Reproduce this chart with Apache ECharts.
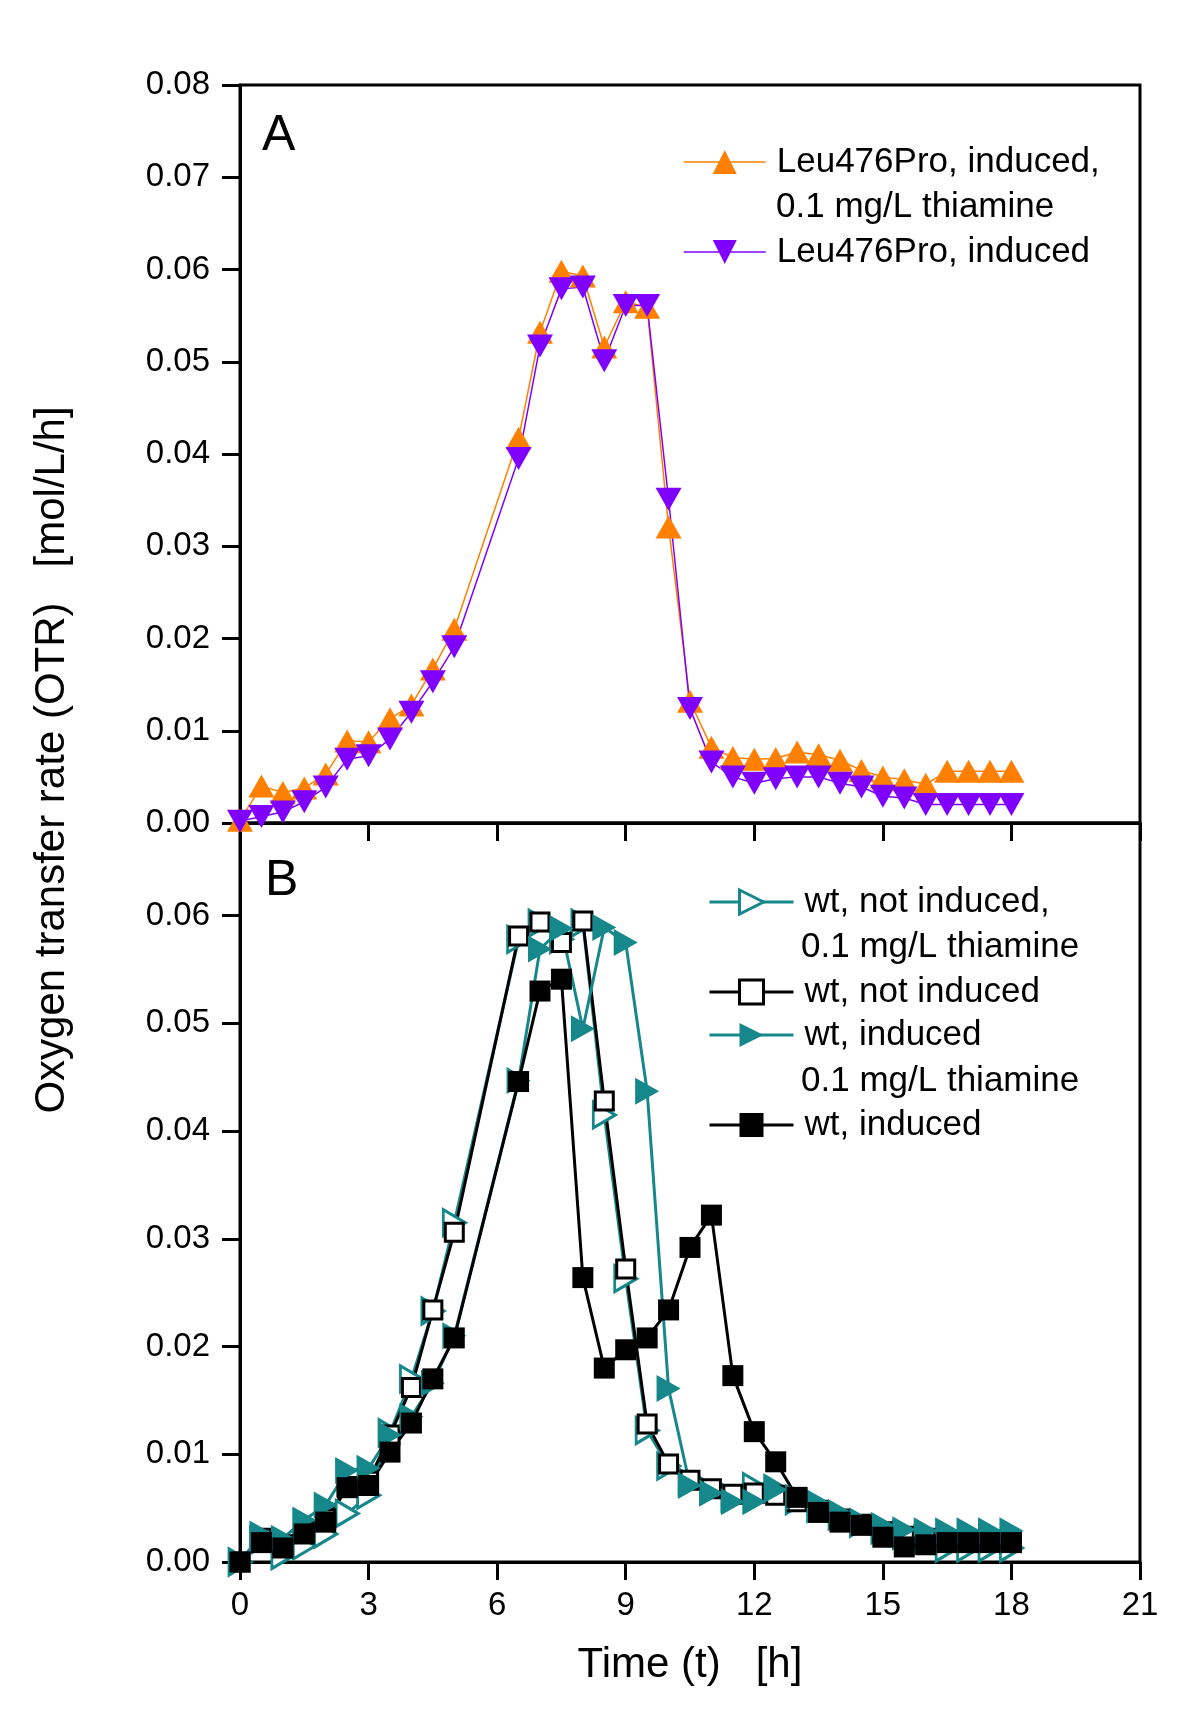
<!DOCTYPE html>
<html>
<head>
<meta charset="utf-8">
<title>OTR</title>
<script src="https://cdn.jsdelivr.net/npm/echarts@6/dist/echarts.min.js"></script>
<style>
  html, body { margin: 0; padding: 0; background: #fff; }
  #main { width: 1200px; height: 1717px; }
</style>
</head>
<body>
<div id="main"></div>
<script>
// sampling times [h]
const times = [0, 0.5, 1, 1.5, 2, 2.5, 3, 3.5, 4, 4.5, 5, 6.5, 7, 7.5, 8, 8.5, 9, 9.5, 10, 10.5,
  11, 11.5, 12, 12.5, 13, 13.5, 14, 14.5, 15, 15.5, 16, 16.5, 17, 17.5, 18];

// panel A
const leuThia = [0.0003, 0.0040, 0.0033, 0.0038, 0.0053, 0.0089, 0.0088, 0.0113, 0.0128, 0.0167, 0.0210,
  0.0417, 0.0532, 0.0598, 0.0593, 0.0516, 0.0565, 0.0559, 0.0321, 0.0132,
  0.0082, 0.0071, 0.0069, 0.0070, 0.0077, 0.0074, 0.0068, 0.0057, 0.0050, 0.0047, 0.0042, 0.0056, 0.0056, 0.0056, 0.0056];
const leuInd = [0.0002, 0.0007, 0.0012, 0.0023, 0.0039, 0.0069, 0.0073, 0.0091, 0.0120, 0.0153, 0.0191,
  0.0395, 0.0517, 0.0579, 0.0581, 0.0501, 0.0561, 0.0561, 0.0351, 0.0124,
  0.0066, 0.0050, 0.0043, 0.0048, 0.0050, 0.0050, 0.0043, 0.0039, 0.0029, 0.0027, 0.0020, 0.0020, 0.0020, 0.0020, 0.0020];

// panel B
const wtNotThia = [0.0000, 0.0020, 0.0006, 0.0015, 0.0026, 0.0045, 0.0062, 0.0120, 0.0170, 0.0233, 0.0315,
  0.0578, 0.0593, 0.0578, 0.0593, 0.0415, 0.0263, 0.0122, 0.0089, 0.0074,
  0.0066, 0.0060, 0.0070, 0.0068, 0.0057, 0.0050, 0.0043, 0.0036, 0.0030, 0.0025, 0.0021, 0.0013, 0.0013, 0.0013, 0.0013];
const wtNot = [0.0000, 0.0022, 0.0016, 0.0028, 0.0040, 0.0070, 0.0075, 0.0118, 0.0162, 0.0234, 0.0306,
  0.0581, 0.0594, 0.0575, 0.0595, 0.0428, 0.0272, 0.0128, 0.0091, 0.0076,
  0.0068, 0.0063, 0.0064, 0.0062, 0.0056, 0.0048, 0.0040, 0.0035, 0.0028, 0.0024, 0.0022, 0.0020, 0.0020, 0.0020, 0.0020];
const wtIndThia = [0.0000, 0.0026, 0.0022, 0.0039, 0.0053, 0.0085, 0.0087, 0.0118, 0.0135, 0.0166, 0.0210,
  0.0447, 0.0569, 0.0588, 0.0495, 0.0589, 0.0575, 0.0437, 0.0161, 0.0071,
  0.0064, 0.0056, 0.0056, 0.0067, 0.0060, 0.0055, 0.0046, 0.0038, 0.0034, 0.0030, 0.0029, 0.0029, 0.0029, 0.0029, 0.0029];
const wtInd = [0.0000, 0.0018, 0.0013, 0.0026, 0.0037, 0.0069, 0.0071, 0.0102, 0.0129, 0.0170, 0.0208,
  0.0446, 0.0530, 0.0541, 0.0264, 0.0180, 0.0197, 0.0208, 0.0234, 0.0292,
  0.0322, 0.0173, 0.0121, 0.0093, 0.0060, 0.0046, 0.0037, 0.0034, 0.0023, 0.0014, 0.0016, 0.0018, 0.0018, 0.0018, 0.0018];

const FONT = 'Liberation Sans, Arial, sans-serif';
const ORANGE = '#FF8000';
const PURPLE = '#8000FF';
const TEAL = '#16878A';

const TRI_DOWN = 'path://M0,0L2,0L1,2Z';
const TRI_RIGHT = 'path://M0,0L2,1L0,2Z';

const pairs = vals => times.map((t, i) => [t, vals[i]]);

var myChart = echarts.init(document.getElementById('main'));

function xAxisCfg(idx, showLabel) {
  return {
    type: 'value', gridIndex: idx, min: 0, max: 21, interval: 3,
    axisLine: { lineStyle: { color: '#000', width: 3 } },
    axisTick: { inside: false, length: 18, lineStyle: { color: '#000', width: 3 } },
    axisLabel: { show: showLabel, margin: 27, fontSize: 33, color: '#000', fontFamily: FONT },
    splitLine: { show: false }
  };
}

function yAxisCfg(idx, max) {
  return {
    type: 'value', gridIndex: idx, min: 0, max: max, interval: 0.01,
    axisLine: { show: true, lineStyle: { color: '#000', width: 3 } },
    axisTick: { show: true, inside: false, length: 18, lineStyle: { color: '#000', width: 3 } },
    axisLabel: {
      margin: 30, fontSize: 33, color: '#000', fontFamily: FONT,
      showMaxLabel: idx === 0,
      formatter: v => (idx === 1 && v > 0.065) ? '' : v.toFixed(2)
    },
    splitLine: { show: false }
  };
}

// one legend per entry so the rows can sit where the reference puts them
function legendCfg(name, left, rowY, lineW, color, open) {
  return {
    data: [name], left: left, top: rowY - 20, orient: 'vertical', padding: 0,
    itemWidth: left === 683 ? 82 : 84, itemHeight: 30, selectedMode: false,
    lineStyle: { width: lineW, color: color },
    itemStyle: open ? { color: '#fff', borderColor: color, borderWidth: 3 } : { color: color, borderWidth: 0 },
    formatter: n => n.split('\n')[0],
    textStyle: { fontSize: 35, lineHeight: 40, color: '#000', fontFamily: FONT, padding: [0, 0, 0, 6] }
  };
}

const nLeuThia = 'Leu476Pro, induced,\n0.1 mg/L thiamine';
const nLeuInd = 'Leu476Pro, induced';
const nWtNotThia = 'wt, not induced,\n0.1 mg/L thiamine';
const nWtNot = 'wt, not induced';
const nWtIndThia = 'wt, induced\n0.1 mg/L thiamine';
const nWtInd = 'wt, induced';

var option = {
  animation: false,
  backgroundColor: '#fff',
  grid: [
    { left: 240, top: 85, width: 900, height: 738, show: true, borderColor: '#000', borderWidth: 3 },
    { left: 240, top: 823, width: 900, height: 739, show: true, borderColor: '#000', borderWidth: 3 }
  ],
  xAxis: [
    xAxisCfg(0, false),
    Object.assign(xAxisCfg(1, true), {
      name: 'Time (t)   [h]', nameLocation: 'middle', nameGap: 82,
      nameTextStyle: { fontSize: 42, color: '#000', fontFamily: FONT }
    })
  ],
  yAxis: [yAxisCfg(0, 0.08), yAxisCfg(1, 0.0686)],
  legend: [
    legendCfg(nLeuThia, 683, 162, 1.5, ORANGE, false),
    legendCfg(nLeuInd, 683, 252, 1.5, PURPLE, false),
    legendCfg(nWtNotThia, 708, 902, 3, TEAL, true),
    legendCfg(nWtNot, 708, 992, 3, '#000', true),
    legendCfg(nWtIndThia, 708, 1035, 3, TEAL, false),
    legendCfg(nWtInd, 708, 1125, 3, '#000', false)
  ],
  graphic: [
    {
      type: 'text', x: 52, y: 760, rotation: Math.PI / 2,
      style: { text: 'Oxygen transfer rate (OTR)   [mol/L/h]', fontSize: 42, fill: '#000', fontFamily: FONT,
        align: 'center', verticalAlign: 'middle' }
    },
    { type: 'text', x: 262, y: 136, style: { text: 'A', fontSize: 50, fill: '#000', fontFamily: FONT, verticalAlign: 'middle' } },
    { type: 'text', x: 265, y: 881, style: { text: 'B', fontSize: 50, fill: '#000', fontFamily: FONT, verticalAlign: 'middle' } },
    { type: 'text', x: 776, y: 207, style: { text: '0.1 mg/L thiamine', fontSize: 35, fill: '#000', fontFamily: FONT, verticalAlign: 'middle' } },
    { type: 'text', x: 801, y: 947, style: { text: '0.1 mg/L thiamine', fontSize: 35, fill: '#000', fontFamily: FONT, verticalAlign: 'middle' } },
    { type: 'text', x: 801, y: 1081, style: { text: '0.1 mg/L thiamine', fontSize: 35, fill: '#000', fontFamily: FONT, verticalAlign: 'middle' } }
  ],
  series: [
    {
      name: nLeuThia, type: 'line', xAxisIndex: 0, yAxisIndex: 0, data: pairs(leuThia),
      symbol: 'triangle', symbolSize: [26, 23],
      itemStyle: { color: ORANGE }, lineStyle: { color: ORANGE, width: 1.5 }
    },
    {
      name: nLeuInd, type: 'line', xAxisIndex: 0, yAxisIndex: 0, data: pairs(leuInd),
      symbol: TRI_DOWN, symbolSize: [26, 23],
      itemStyle: { color: PURPLE }, lineStyle: { color: PURPLE, width: 1.5 }
    },
    {
      name: nWtNotThia, type: 'line', xAxisIndex: 1, yAxisIndex: 1, data: pairs(wtNotThia),
      symbol: TRI_RIGHT, symbolSize: [22, 26],
      itemStyle: { color: '#fff', borderColor: TEAL, borderWidth: 3 }, lineStyle: { color: TEAL, width: 3 }
    },
    {
      name: nWtNot, type: 'line', xAxisIndex: 1, yAxisIndex: 1, data: pairs(wtNot),
      symbol: 'rect', symbolSize: 18,
      itemStyle: { color: '#fff', borderColor: '#000', borderWidth: 3 }, lineStyle: { color: '#000', width: 3 }
    },
    {
      name: nWtIndThia, type: 'line', xAxisIndex: 1, yAxisIndex: 1, data: pairs(wtIndThia),
      symbol: TRI_RIGHT, symbolSize: [24, 27],
      itemStyle: { color: TEAL }, lineStyle: { color: TEAL, width: 3 }
    },
    {
      name: nWtInd, type: 'line', xAxisIndex: 1, yAxisIndex: 1, data: pairs(wtInd),
      symbol: 'rect', symbolSize: 21,
      itemStyle: { color: '#000' }, lineStyle: { color: '#000', width: 3 }
    }
  ]
};

myChart.setOption(option);
</script>
</body>
</html>
